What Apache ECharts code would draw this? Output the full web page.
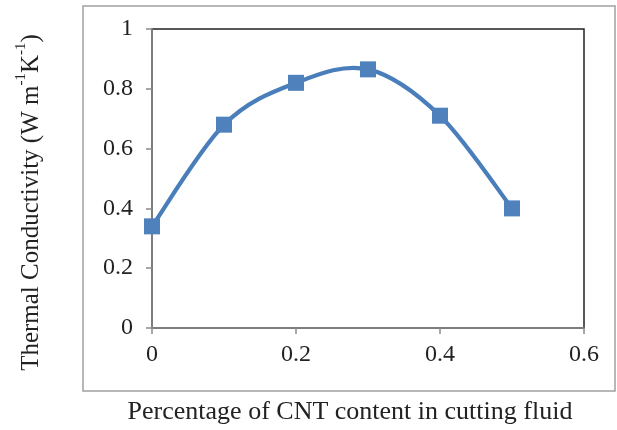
<!DOCTYPE html>
<html>
<head>
<meta charset="utf-8">
<script src="https://cdn.jsdelivr.net/npm/echarts@6/dist/echarts.min.js"></script>
<style>html,body{margin:0;padding:0;background:#fff}#c{width:617px;height:430px}</style>
</head>
<body>
<div id="c"></div>
<script>
const cntPercent = [0, 0.1, 0.2, 0.3, 0.4, 0.5];
const conductivity = [0.34, 0.68, 0.82, 0.865, 0.71, 0.40];
const xTicks = [0, 0.2, 0.4, 0.6];
const yTicks = [0, 0.2, 0.4, 0.6, 0.8, 1];

const points = cntPercent.map((x, i) => [x, conductivity[i]]);
const chart = echarts.init(document.getElementById('c'), null, {renderer: 'canvas'});
const font = '"Liberation Serif", "Times New Roman", serif';

// Smoothed (Catmull-Rom style, like spreadsheet smoothed lines) path through the data,
// positioned through the chart's own coordinate system.
function renderCurve(params, api) {
  if (params.dataIndex !== 0) return null;
  const p = points.map(d => api.coord(d));
  const n = p.length;
  let d = 'M' + p[0][0] + ' ' + p[0][1];
  for (let i = 0; i < n - 1; i++) {
    const p0 = p[Math.max(i - 1, 0)], p1 = p[i], p2 = p[i + 1], p3 = p[Math.min(i + 2, n - 1)];
    const c1 = [p1[0] + (p2[0] - p0[0]) / 6, p1[1] + (p2[1] - p0[1]) / 6];
    const c2 = [p2[0] - (p3[0] - p1[0]) / 6, p2[1] - (p3[1] - p1[1]) / 6];
    d += ' C' + c1[0] + ' ' + c1[1] + ' ' + c2[0] + ' ' + c2[1] + ' ' + p2[0] + ' ' + p2[1];
  }
  return {
    type: 'path',
    shape: {pathData: d},
    style: {fill: null, stroke: '#4a7ebb', lineWidth: 4.2, lineJoin: 'round', lineCap: 'round'}
  };
}

chart.setOption({
  backgroundColor: '#fff',
  animation: false,
  graphic: [{
    type: 'rect', shape: {x: 83, y: 6, width: 532, height: 385},
    style: {fill: 'none', stroke: '#a0a0a0', lineWidth: 1.5}, z: -1
  }],
  grid: {left: 152, right: 33, top: 29, bottom: 102, show: true, borderColor: '#222', borderWidth: 1.5, backgroundColor: 'transparent'},
  xAxis: {
    type: 'value', min: 0, max: 0.6, interval: 0.2,
    name: 'Percentage of CNT content in cutting fluid',
    nameLocation: 'middle', nameGap: 71,
    nameTextStyle: {fontFamily: font, fontSize: 26, color: '#222', padding: [0, 36, 0, 0]},
    axisLine: {show: true, onZero: false, lineStyle: {color: '#8a8a8a', width: 1.5}},
    axisTick: {show: true, length: 6, inside: false, lineStyle: {color: '#8a8a8a', width: 1.5}},
    axisLabel: {fontFamily: font, fontSize: 24, color: '#222', margin: 15,
      formatter: v => xTicks.includes(+v.toFixed(1)) ? String(+v.toFixed(1)) : ''},
    splitLine: {show: false}
  },
  yAxis: {
    type: 'value', min: 0, max: 1, interval: 0.2,
    name: '{n|Thermal Conductivity (W m}{s|-1}{n|K}{s|-1}{n|)}',
    nameLocation: 'middle', nameGap: 108, nameRotate: 90,
    nameTextStyle: {
      padding: [0, 48, 0, 0],
      rich: {
        n: {fontFamily: font, fontSize: 25, color: '#222', lineHeight: 30, verticalAlign: 'bottom'},
        s: {fontFamily: font, fontSize: 15, color: '#222', lineHeight: 30, verticalAlign: 'top'}
      }
    },
    axisLine: {show: true, onZero: false, lineStyle: {color: '#8a8a8a', width: 1.5}},
    axisTick: {show: true, length: 6, lineStyle: {color: '#8a8a8a', width: 1.5}},
    axisLabel: {fontFamily: font, fontSize: 24, color: '#222', margin: 19,
      formatter: v => yTicks.includes(+v.toFixed(1)) ? String(+v.toFixed(1)) : ''},
    splitLine: {show: false}
  },
  series: [{
    type: 'custom',
    renderItem: renderCurve,
    data: points,
    clip: false,
    z: 2
  }, {
    type: 'scatter',
    data: points,
    symbol: 'rect', symbolSize: 16,
    itemStyle: {color: '#4f81bd', opacity: 1},
    z: 3
  }]
});
</script>
</body>
</html>
